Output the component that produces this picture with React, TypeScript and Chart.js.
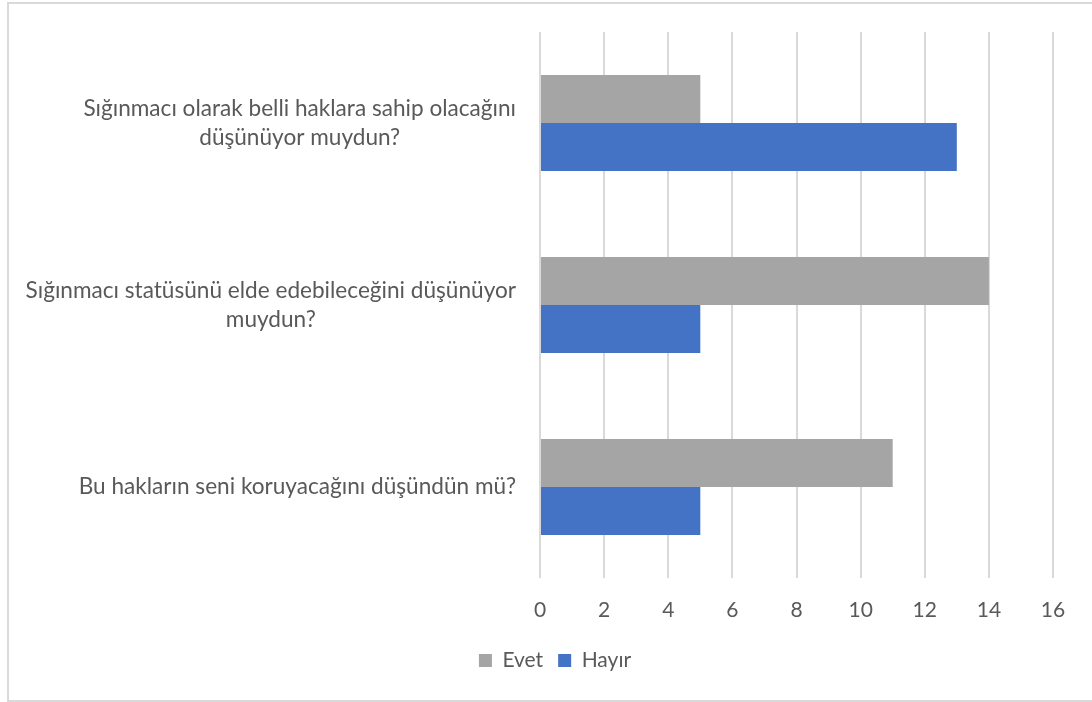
import React, { useEffect, useRef } from "react";
import { Chart, registerables } from "chart.js";

Chart.register(...registerables);

const categories: string[][] = [
  ["Sığınmacı olarak belli haklara sahip olacağını", "düşünüyor muydun?"],
  ["Sığınmacı statüsünü elde edebileceğini düşünüyor", "muydun?"],
  ["Bu hakların seni koruyacağını düşündün mü?"],
];
const seriesNames = ["Evet", "Hayır"];
const evetValues = [5, 14, 11];
const hayirValues = [13, 5, 5];
const xMin = 0;
const xMax = 16;
const xStep = 2;

const FONT = "Lato, 'Open Sans', sans-serif";
const TEXT_COLOR = "#595959";
const LABEL_SIZE = 22.6;
const TICK_SIZE = 21;
const LEGEND_SIZE = 21;
const LINE_HEIGHT = 29;

const yLabelPlugin = {
  id: "yLabelsCentered",
  afterDraw(chart: any) {
    const scale = chart.scales.y;
    const ctx = chart.ctx as CanvasRenderingContext2D;
    ctx.save();
    ctx.font = `${LABEL_SIZE}px ${FONT}`;
    ctx.fillStyle = TEXT_COLOR;
    ctx.textAlign = "center";
    ctx.textBaseline = "middle";
    const rightEdge = scale.right - 24;
    categories.forEach((lines, i) => {
      const y = scale.getPixelForTick(i);
      const widest = Math.max(...lines.map((l) => ctx.measureText(l).width));
      const cx = rightEdge - widest / 2;
      lines.forEach((line, j) => {
        ctx.fillText(line, cx, y + (j - (lines.length - 1) / 2) * LINE_HEIGHT);
      });
    });
    ctx.restore();
  },
};

export default function App() {
  const ref = useRef<HTMLCanvasElement | null>(null);

  useEffect(() => {
    if (!ref.current) return;
    const chart = new Chart(ref.current, {
      type: "bar",
      data: {
        labels: categories.map((c) => c.join(" ")),
        datasets: [
          {
            label: seriesNames[0],
            data: evetValues,
            backgroundColor: "#A5A5A5",
            borderWidth: 0,
          },
          {
            label: seriesNames[1],
            data: hayirValues,
            backgroundColor: "#4472C4",
            borderWidth: 0,
          },
        ],
      },
      options: {
        indexAxis: "y",
        responsive: false,
        animation: false,
        devicePixelRatio: 1,
        layout: { padding: { top: 32, right: 39, left: 57, bottom: 21 } },
        datasets: {
          bar: { categoryPercentage: 0.527, barPercentage: 1 },
        },
        scales: {
          x: {
            min: xMin,
            max: xMax,
            ticks: {
              stepSize: xStep,
              color: TEXT_COLOR,
              font: { family: FONT, size: TICK_SIZE },
              padding: 20,
            },
            grid: { color: "#D9D9D9", lineWidth: 2, drawTicks: false },
            border: { display: false },
            afterFit: (scale: any) => {
              scale.height = 57;
            },
          },
          y: {
            ticks: { display: false },
            grid: { display: false },
            border: { display: false },
            afterFit: (scale: any) => {
              scale.width = 483;
            },
          },
        },
        plugins: {
          legend: {
            position: "bottom",
            labels: {
              boxWidth: 13,
              boxHeight: 13,
              padding: 15,
              color: TEXT_COLOR,
              font: { family: FONT, size: LEGEND_SIZE },
            },
          },
          tooltip: { enabled: false },
        },
      },
      plugins: [yLabelPlugin],
    });
    return () => chart.destroy();
  }, []);

  return (
    <div
      style={{
        position: "fixed",
        left: 0,
        top: 0,
        width: 1092,
        height: 702,
        overflow: "hidden",
        background: "#FFFFFF",
      }}
    >
      <div
        style={{
          position: "absolute",
          left: 7,
          top: 2,
          width: 1200,
          height: 700,
          boxSizing: "border-box",
          border: "2px solid #D9D9D9",
        }}
      />
      <canvas
        ref={ref}
        width={1092}
        height={702}
        style={{ position: "absolute", left: 0, top: 0, width: 1092, height: 702 }}
      />
    </div>
  );
}
